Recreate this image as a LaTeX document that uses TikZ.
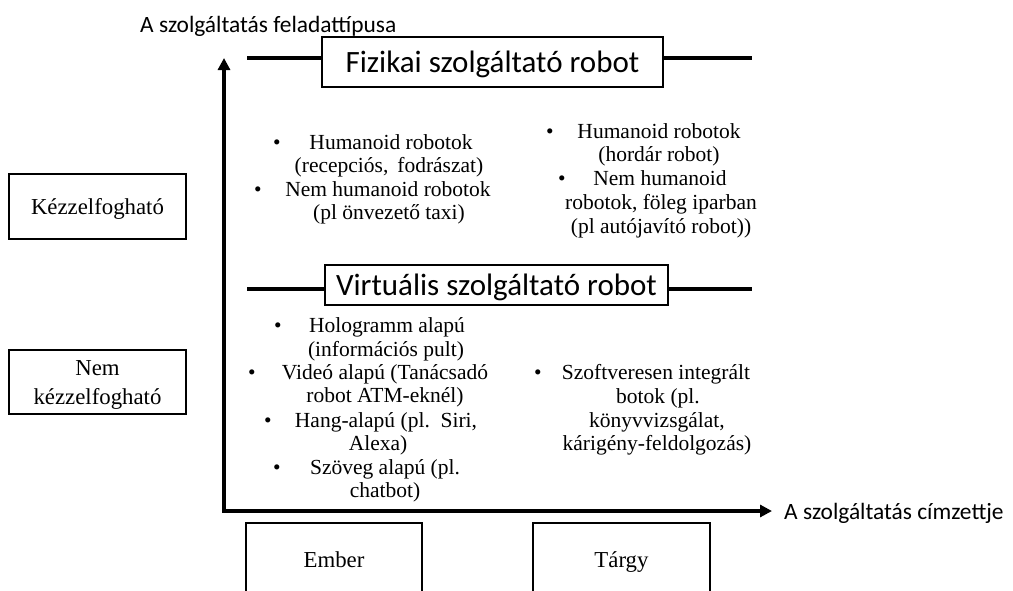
\documentclass[tikz,border=0pt]{standalone}
\usepackage{fontspec}
\setmainfont{Liberation Serif}
\newfontfamily\calib{Carlito}
\usetikzlibrary{arrows.meta}
\begin{document}
\begin{tikzpicture}[x=1pt,y=-1pt,
  itm/.style={font=\fontsize{21.5}{24}\selectfont, inner sep=0pt, anchor=base},
  bul/.style={font=\fontsize{21.5}{24}\selectfont, inner sep=0pt, anchor=base},
  sbox/.style={draw, line width=1.3pt, inner sep=0pt, align=center,
     font=\fontsize{22.8}{29}\selectfont, text height=15pt, text depth=0pt},
  cbox/.style={draw, line width=1.3pt, fill=white, inner sep=0pt,
     font=\calib\fontsize{31}{36}\selectfont, text height=20pt, text depth=0pt},
  band/.style={line width=4pt},
  axis/.style={line width=3.8pt, line join=miter,
     {Triangle[length=12pt,width=12pt]}-{Triangle[length=12pt,width=12pt]}},
  lab/.style={font=\calib\fontsize{23.4}{28}\selectfont, inner sep=0pt, anchor=base west}
]
\useasboundingbox (0,0) rectangle (1013,590);
\clip (0,0) rectangle (1013,590);

% axis labels
\node[lab] (ylab) at (140,32) {A szolgáltatás feladattípusa};
\node[lab] (xlab) at (784,519) {A szolgáltatás címzettje};

% axes
\coordinate (vt) at (224,58);
\coordinate (corner) at (224,511);
\coordinate (ht) at (772,511);
\draw[axis] (vt) -- (corner) -- (ht);

% Fizikai band
\node[cbox, minimum width=341pt, minimum height=50pt] (fiz) at (492.5,62) {Fizikai szolgáltató robot};
\coordinate (fl) at (247,58);
\coordinate (fr) at (752,58);
\draw[band] (fl) -- (fl -| fiz.west);
\draw[band] (fiz.east |- fr) -- (fr);

% Virtualis band
\node[cbox, minimum width=343pt, minimum height=40pt] (vir) at (496.5,285) {Virtuális szolgáltató robot};
\coordinate (vl) at (247,289);
\coordinate (vr) at (752,289);
\draw[band] (vl) -- (vl -| vir.west);
\draw[band] (vir.east |- vr) -- (vr);

% left category boxes
\node[sbox, minimum width=177pt, minimum height=65pt] (kez) at (97.5,206.5) {Kézzelfogható};
\node[sbox, minimum width=177pt, minimum height=64pt, text height=44pt, text depth=0pt] (nkez) at (97.5,382) {Nem\\kézzelfogható};

% bottom boxes
\node[sbox, minimum width=176pt, minimum height=74pt] (ember) at (334,560) {Ember};
\node[sbox, minimum width=177pt, minimum height=74pt] (targy) at (621.5,560) {Tárgy};

% top-left list
\node[bul] (b1) at (277,149) {•};
\node[itm] (t1) at (391,149) {Humanoid robotok};
\node[itm] (t2) at (389,172) {(recepciós,\, fodrászat)};
\node[bul] (b2) at (258,196) {•};
\node[itm] (t3) at (388,196) {Nem humanoid robotok};
\node[itm] (t4) at (389,219) {(pl önvezető taxi)};

% top-right list
\node[bul] (b3) at (550,138) {•};
\node[itm] (r1) at (659,138) {Humanoid robotok};
\node[itm] (r2) at (659,161) {(hordár robot)};
\node[bul] (b4) at (562,185) {•};
\node[itm] (r3) at (660,185) {Nem humanoid};
\node[itm] (r4) at (661,209) {robotok, föleg iparban};
\node[itm] (r5) at (661,233) {(pl autójavító robot))};

% bottom-left list
\node[bul] (b5) at (278,332) {•};
\node[itm] (v1) at (387,332) {Hologramm alapú};
\node[itm] (v2) at (386,356) {(információs pult)};
\node[bul] (b6) at (252,379) {•};
\node[itm] (v3) at (385,379) {Videó alapú (Tanácsadó};
\node[itm] (v4) at (385,402) {robot ATM-eknél)};
\node[bul] (b7) at (268,427) {•};
\node[itm] (v5) at (386,427) {Hang-alapú (pl.\, Siri,};
\node[itm] (v6) at (378,450) {Alexa)};
\node[bul] (b8) at (277,474) {•};
\node[itm] (v7) at (385,474) {Szöveg alapú (pl.};
\node[itm] (v8) at (385,497) {chatbot)};

% bottom-right list
\node[bul] (b9) at (538,379) {•};
\node[itm] (s1) at (656,379) {Szoftveresen integrált};
\node[itm] (s2) at (658,403) {botok (pl.};
\node[itm] (s3) at (657,427) {könyvvizsgálat,};
\node[itm] (s4) at (657,450) {kárigény-feldolgozás)};
\end{tikzpicture}
\end{document}
